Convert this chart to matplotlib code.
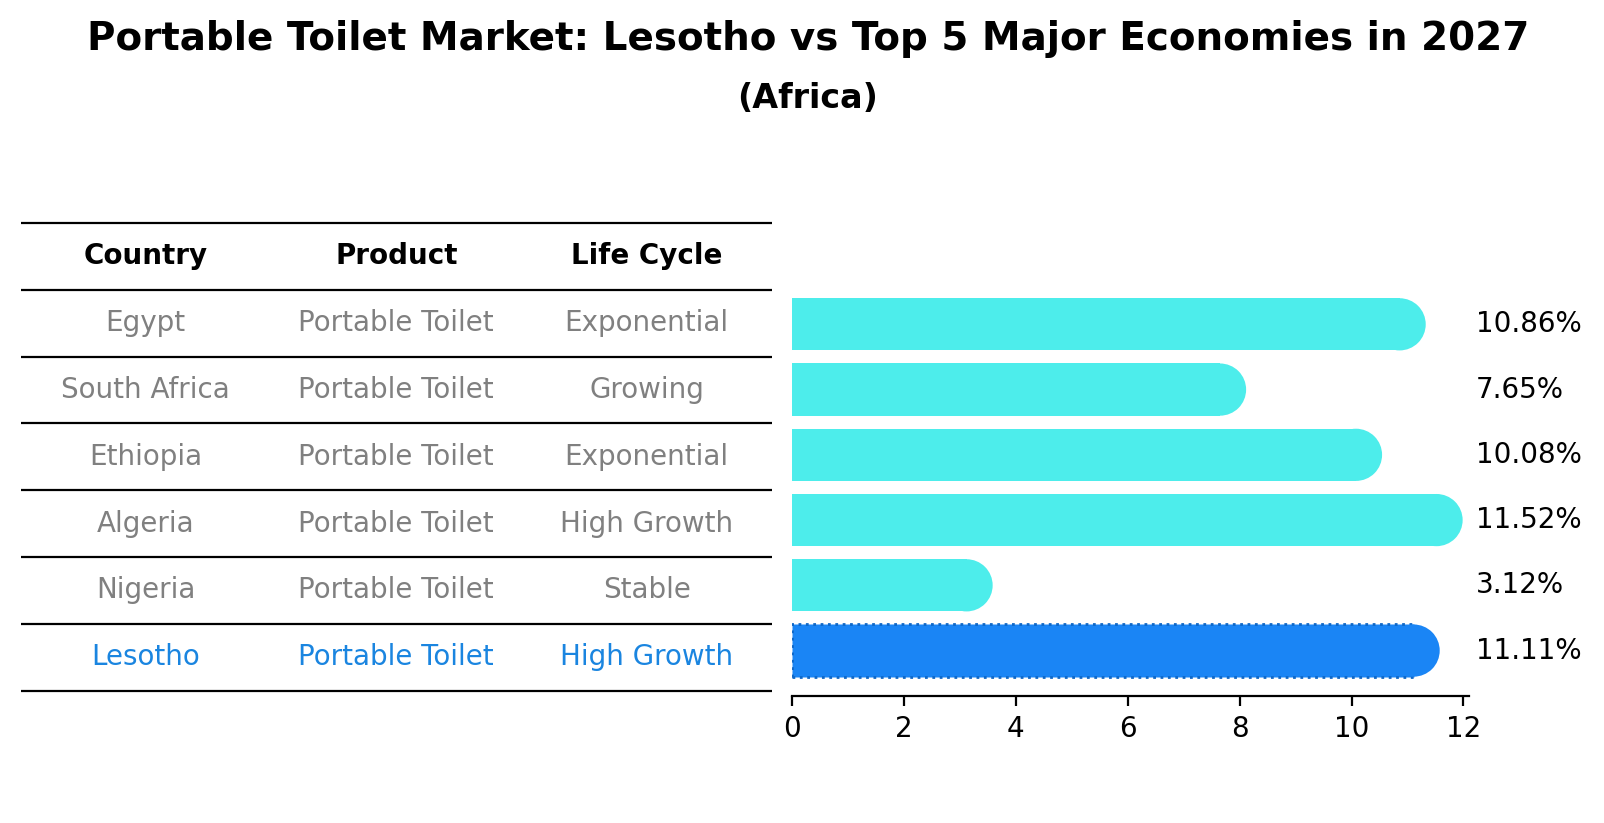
import matplotlib
matplotlib.use("Agg")
import matplotlib.pyplot as plt
from matplotlib.patches import Ellipse

countries = ["Egypt", "South Africa", "Ethiopia", "Algeria", "Nigeria", "Lesotho"]
products = ["Portable Toilet"] * 6
life_cycle = ["Exponential", "Growing", "Exponential", "High Growth", "Stable", "High Growth"]
growth = [10.86, 7.65, 10.08, 11.52, 3.12, 11.11]
headers = ["Country", "Product", "Life Cycle"]
highlight = "Lesotho"

cyan = "#4DEDEB"
blue = "#1A85F5"
blue_text = "#1A85E0"
gray = "#808080"

W, H = 1604, 823
fig = plt.figure(figsize=(W / 200, H / 200), dpi=200)

tx = (W / 2 + 6) / W
fig.text(tx, 1 - 39 / H, "Portable Toilet Market: Lesotho vs Top 5 Major Economies in 2027",
         ha="center", va="center", fontsize=14, fontweight="bold")
fig.text(tx, 1 - 99 / H, "(Africa)", ha="center", va="center", fontsize=12, fontweight="bold")

# table axes
tl, tr, ttop, tbot = 20.5, 772, 223, 690.5
tax = fig.add_axes([tl / W, (H - tbot) / H, (tr - tl) / W, (tbot - ttop) / H])
n = len(countries)
tax.set_xlim(0, 3)
tax.set_ylim(0, n + 1)
tax.axis("off")
for k in range(n + 2):
    tax.plot([0, 3], [k, k], color="black", lw=0.8, solid_capstyle="butt", clip_on=False)
for j, h in enumerate(headers):
    tax.text(j + 0.5, n + 0.5, h, ha="center", va="center", fontsize=10, fontweight="bold")
for i in range(n):
    yy = n - 1 - i + 0.5
    col = blue_text if countries[i] == highlight else gray
    for j, val in enumerate([countries[i], products[i], life_cycle[i]]):
        tax.text(j + 0.5, yy, val, ha="center", va="center", fontsize=10, color=col)

# bar axes
bl, br, btop, bbot = 792, 1469, 279.3, 695.6
bax = fig.add_axes([bl / W, (H - bbot) / H, (br - bl) / W, (bbot - btop) / H])
ypos = list(range(n - 1, -1, -1))
bh = 0.8
bax.set_xlim(0, 12.1)
bax.set_ylim(-0.69, n - 1 + 0.69)
for sp in ["top", "right", "left"]:
    bax.spines[sp].set_visible(False)
bax.set_yticks([])
bax.tick_params(axis="x", labelsize=10)
bax.set_xticks([0, 2, 4, 6, 8, 10, 12])

fig.canvas.draw()
bb = bax.get_window_extent()
px_x = bb.width / 12.1
px_y = bb.height / (2 * 0.69 + n - 1)
ell_w = bh * px_y / px_x

for i in range(n):
    is_h = countries[i] == highlight
    c = blue if is_h else cyan
    if is_h:
        bax.barh(ypos[i], growth[i], height=bh, color=c, edgecolor="#0F68C8",
                 linestyle=":", linewidth=1.0)
    else:
        bax.barh(ypos[i], growth[i], height=bh, color=c, edgecolor="none")
    bax.add_patch(Ellipse((growth[i], ypos[i]), ell_w, bh, facecolor=c, edgecolor="none"))
    bax.text(max(growth) + 0.7, ypos[i], f"{growth[i]:.2f}%", ha="left", va="center",
             fontsize=10, clip_on=False)

fig.savefig("out.png", dpi=200)
